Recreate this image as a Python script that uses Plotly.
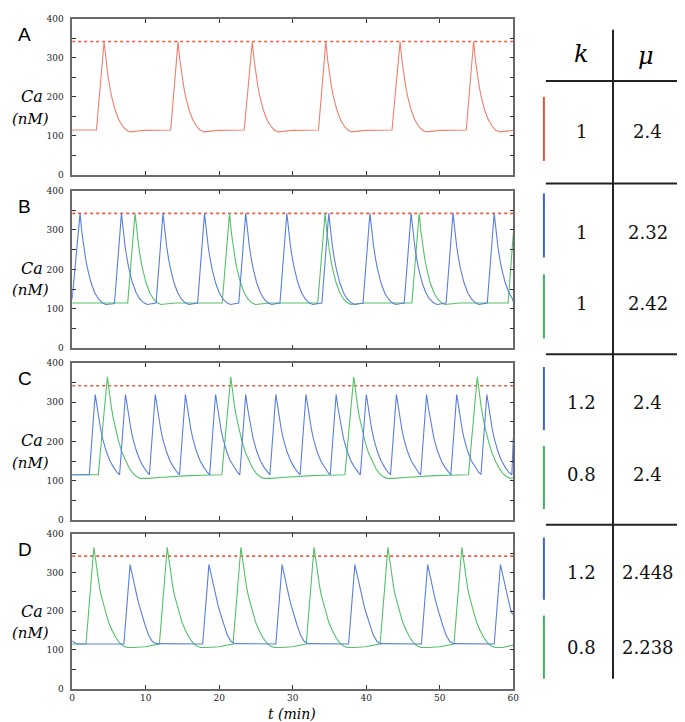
import plotly.graph_objects as go

W, H = 685, 722
T_MAX = 60
THRESH = 342

# ---------------- data ----------------
# Panel A (red, k=1, mu=2.4)
a_red_onset = [3.3, 13.4, 23.4, 33.5, 43.5, 53.6]
a_red_peak_t = [4.34, 14.4, 24.5, 34.5, 44.6, 54.6]
a_red_peak = 342
red_dec_dt = [0, 0.25, 0.5, 0.75, 1.0, 1.5, 2.0, 2.5, 3.0, 3.5, 4.5, 5.5]
red_dec_ca = [342, 294, 258, 228, 203, 166, 141, 125, 115, 110, 112, 114]

# Panel B blue (k=1, mu=2.32) and green (k=1, mu=2.42)
b_blue_onset = [0, 5.76, 11.41, 17.06, 22.66, 28.26, 33.96, 39.56, 45.16, 50.86, 56.46]
b_blue_peak_t = [1.07, 6.7, 12.35, 18.0, 23.6, 29.2, 34.9, 40.5, 46.1, 51.8, 57.4]
b_green_onset = [7.55, 20.4, 33.4, 46.2]
b_green_peak_t = [8.55, 21.4, 34.4, 47.2]
b_peak = 342
b_dec_dt = [0, 0.25, 0.5, 0.75, 1.0, 1.5, 2.0, 2.5, 3.0, 3.5, 4.5, 5.5]
b_dec_ca = [342, 294, 258, 228, 203, 166, 141, 125, 116, 111, 113, 115]

# Panel C blue (k=1.2, mu=2.4) and green (k=0.8, mu=2.4)
c_blue_onset = [2.33, 6.45, 10.5, 14.6, 18.7, 22.8, 26.9, 31.0, 35.1, 39.2, 43.3, 47.4, 51.5, 55.6]
c_blue_peak_t = [3.13, 7.25, 11.3, 15.4, 19.5, 23.6, 27.7, 31.8, 35.9, 40.0, 44.1, 48.2, 52.3, 56.4]
c_blue_peak = 320
c_blue_dec_dt = [0, 0.25, 0.5, 0.75, 1.0, 1.5, 2.0, 2.5, 3.0, 3.3]
c_blue_dec_ca = [320, 286, 256, 230, 208, 175, 151, 134, 121, 116]
c_green_onset = [3.55, 20.35, 37.1, 53.9]
c_green_peak_t = [4.79, 21.57, 38.3, 55.1]
green_peak = 365
green_dec_dt = [0, 0.25, 0.5, 0.75, 1.0, 1.5, 2.0, 2.5, 3.0, 3.5, 4.0, 4.5, 5.5, 7.0, 9.0, 11.0, 13.0]
green_dec_ca = [365, 326, 292, 264, 240, 202, 171, 149, 131, 118, 110, 106, 106, 108, 111, 113, 114]

# Panel D blue (k=1.2, mu=2.448) and green (k=0.8, mu=2.238)
d_green_onset = [1.88, 11.86, 21.88, 31.83, 41.88, 51.93]
d_green_peak_t = [2.95, 12.93, 22.95, 32.9, 42.95, 53.0]
d_blue_onset = [7.03, 17.75, 27.7, 37.6, 47.5, 57.4]
d_blue_peak_t = [7.88, 18.6, 28.55, 38.45, 48.35, 58.25]
d_blue_peak = 320
d_blue_dec_dt = [0, 0.25, 0.5, 0.75, 1.0, 1.25, 1.5, 2.0, 2.5, 3.0, 3.5]
d_blue_dec_ca = [320, 298, 274, 252, 232, 214, 197, 166, 138, 122, 116]

BASE = 115

# Table
table_k = ["1", "1", "1", "1.2", "0.8", "1.2", "0.8"]
table_mu = ["2.4", "2.32", "2.42", "2.4", "2.4", "2.448", "2.238"]
panel_letters = ["A", "B", "C", "D"]
x_ticks = [0, 10, 20, 30, 40, 50, 60]
y_ticks = [0, 50, 100, 150, 200, 250, 300, 350, 400]
y_tick_text = ["0", "", "100", "", "200", "", "300", "", "400"]

# ---------------- styles ----------------
RED = "#f27e6c"
DASH_RED = "#f05a3c"
BLUE = "#5a7ee0"
GREEN = "#52c268"
BAR_RED = "#e5533d"
BAR_BLUE = "#3b62d4"
BAR_GREEN = "#3cb25a"
SERIF = "DejaVu Serif"
SANS = "Liberation Sans"


def build(start_t, start_ca, onsets, peaks, peak_ca, dec_dt, dec_ca, tail_t, tail_ca):
    xs, ys = list(start_t), list(start_ca)
    for i, (on, pk) in enumerate(zip(onsets, peaks)):
        nxt = onsets[i + 1] if i + 1 < len(onsets) else tail_t[0]
        if on > xs[-1]:
            xs.append(on)
            ys.append(BASE)
        xs.append(pk)
        ys.append(peak_ca)
        for dt, v in zip(dec_dt[1:], dec_ca[1:]):
            if pk + dt < nxt:
                xs.append(pk + dt)
                ys.append(v)
    xs += list(tail_t)
    ys += list(tail_ca)
    return xs, ys


series = [
    (0, RED, build([0], [115], a_red_onset, a_red_peak_t, a_red_peak, red_dec_dt, red_dec_ca, [60], [114])),
    (1, GREEN, build([0], [115], b_green_onset, b_green_peak_t, b_peak, b_dec_dt, b_dec_ca, [59.3, 60], [115, 292])),
    (1, BLUE, build([0], [125], b_blue_onset, b_blue_peak_t, b_peak, b_dec_dt, b_dec_ca, [60], [118])),
    (2, GREEN, build([0], [115], c_green_onset, c_green_peak_t, green_peak, green_dec_dt, green_dec_ca, [60], [107])),
    (2, BLUE, build([0], [115], c_blue_onset, c_blue_peak_t, c_blue_peak, c_blue_dec_dt, c_blue_dec_ca, [59.8, 60], [115, 210])),
    (3, GREEN, build([0], [115], d_green_onset, d_green_peak_t, green_peak, green_dec_dt, green_dec_ca, [60], [112])),
    (3, BLUE, build([0, 0.6], [123, 115], d_blue_onset, d_blue_peak_t, d_blue_peak, d_blue_dec_dt, d_blue_dec_ca, [60], [190])),
]

# ---------------- layout geometry (pixels) ----------------
PLOT_L, PLOT_R = 62, 509
panel_tops = [6, 180, 355, 528]
panel_bots = [164, 340, 514, 685]


def px(x):
    return x / W


def py(y):
    return 1 - y / H


fig = go.Figure()

for p in range(4):
    sfx = "" if p == 0 else str(p + 1)
    fig.add_trace(go.Scatter(
        x=[0, T_MAX], y=[THRESH, THRESH], mode="lines",
        line=dict(color=DASH_RED, width=1.6, dash="3px,3px"),
        xaxis="x" + sfx, yaxis="y" + sfx, showlegend=False, hoverinfo="skip"))

for p, col, (xs, ys) in series:
    sfx = "" if p == 0 else str(p + 1)
    fig.add_trace(go.Scatter(
        x=xs, y=ys, mode="lines", line=dict(color=col, width=1.1),
        xaxis="x" + sfx, yaxis="y" + sfx, showlegend=False))

layout = dict(
    width=W, height=H, autosize=False,
    margin=dict(l=0, r=0, t=0, b=0),
    paper_bgcolor="white", plot_bgcolor="white",
    showlegend=False,
    font=dict(family=SERIF),
)

for p in range(4):
    sfx = "" if p == 0 else str(p + 1)
    layout["xaxis" + sfx] = dict(
        domain=[px(PLOT_L), px(PLOT_R)], range=[0, T_MAX],
        anchor="y" + sfx, tickvals=x_ticks, ticks="inside", ticklen=4,
        tickcolor="#333", showline=True, linecolor="#6a6a6a", linewidth=1.5,
        mirror="ticks", showgrid=False, zeroline=False,
        showticklabels=(p == 3), ticklabelstandoff=0,
        tickfont=dict(family=SERIF, size=9, color="#222"),
    )
    layout["yaxis" + sfx] = dict(
        domain=[py(panel_bots[p]), py(panel_tops[p])], range=[0, 400],
        anchor="x" + sfx, tickvals=y_ticks, ticktext=y_tick_text,
        ticks="inside", ticklen=4, tickcolor="#333",
        showline=True, linecolor="#6a6a6a", linewidth=1.5, mirror="ticks",
        showgrid=False, zeroline=False, ticklabelstandoff=5,
        tickfont=dict(family=SERIF, size=9, color="#222"),
    )

annotations = []
shapes = []
for p in range(4):
    top = panel_tops[p]
    annotations.append(dict(text=panel_letters[p], x=px(14), y=py(top + 16), xref="paper", yref="paper",
                            showarrow=False, font=dict(family=SANS, size=19, color="black"),
                            xanchor="center", yanchor="middle"))
    annotations.append(dict(text="<i>Ca</i>", x=px(21), y=py(top + 79), xref="paper", yref="paper",
                            showarrow=False, font=dict(family=SERIF, size=16, color="black"),
                            xanchor="center", yanchor="middle"))
    annotations.append(dict(text="<i>(nM)</i>", x=px(20), y=py(top + 101), xref="paper", yref="paper",
                            showarrow=False, font=dict(family=SERIF, size=15, color="black"),
                            xanchor="center", yanchor="middle"))

annotations.append(dict(text="<i>t (min)</i>", x=px(285), y=py(711), xref="paper", yref="paper",
                        showarrow=False, font=dict(family=SERIF, size=14, color="black"),
                        xanchor="center", yanchor="middle", borderpad=0))

# table
annotations.append(dict(text="<i>k</i>", x=px(578), y=py(42), xref="paper", yref="paper", showarrow=False,
                        font=dict(family=SERIF, size=24, color="black"), xanchor="center", yanchor="middle"))
annotations.append(dict(text="<i>μ</i>", x=px(643), y=py(44), xref="paper", yref="paper", showarrow=False,
                        font=dict(family=SERIF, size=24, color="black"), xanchor="center", yanchor="middle"))

row_y = [120, 223, 295, 395, 468, 567, 643]
bar_colors = [BAR_RED, BAR_BLUE, BAR_GREEN, BAR_BLUE, BAR_GREEN, BAR_BLUE, BAR_GREEN]
bar_spans = [(85, 150), (183, 248), (265, 330), (359, 423), (439, 503), (532, 595), (611, 675)]
for i in range(len(table_k)):
    annotations.append(dict(text=table_k[i], x=px(578), y=py(row_y[i]), xref="paper", yref="paper",
                            showarrow=False, font=dict(family=SERIF, size=18, color="#111"),
                            xanchor="center", yanchor="middle"))
    annotations.append(dict(text=table_mu[i], x=px(645), y=py(row_y[i]), xref="paper", yref="paper",
                            showarrow=False, font=dict(family=SERIF, size=18, color="#111"),
                            xanchor="center", yanchor="middle"))
    y0, y1 = bar_spans[i]
    shapes.append(dict(type="line", xref="paper", yref="paper", x0=px(540), x1=px(540),
                       y0=py(y0), y1=py(y1), line=dict(color=bar_colors[i], width=2)))

shapes.append(dict(type="line", xref="paper", yref="paper", x0=px(610), x1=px(610),
                   y0=py(17), y1=py(675), line=dict(color="#222", width=2)))
for hy in [69, 173, 346, 519]:
    shapes.append(dict(type="line", xref="paper", yref="paper", x0=px(542), x1=px(684),
                       y0=py(hy), y1=py(hy), line=dict(color="#222", width=2)))

layout["annotations"] = annotations
layout["shapes"] = shapes
fig.update_layout(**layout)
fig.write_html("out.html")
